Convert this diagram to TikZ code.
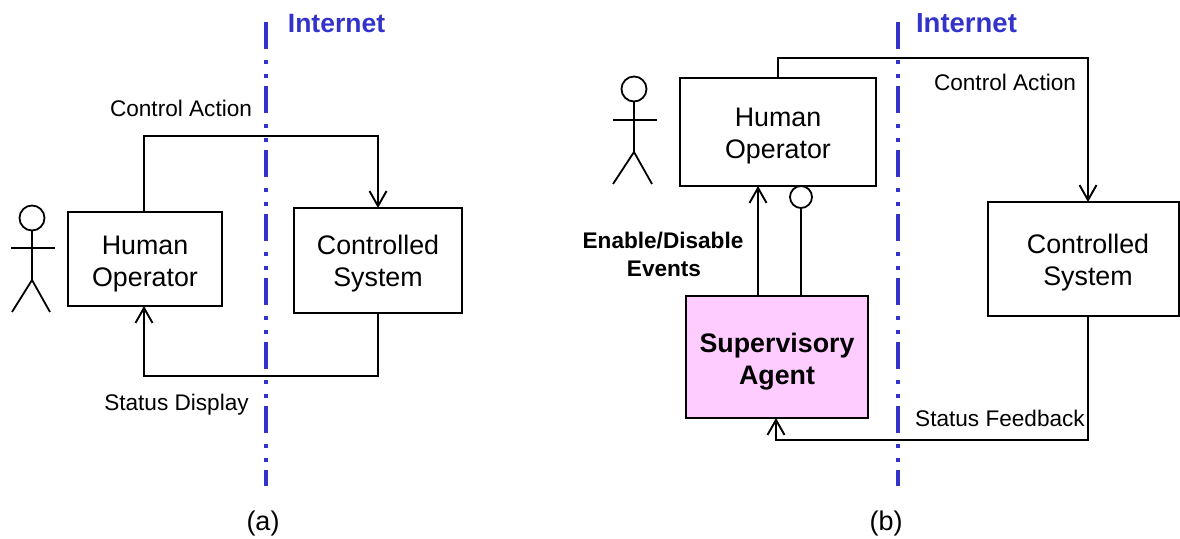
\documentclass[tikz,border=0pt]{standalone}
\usepackage{fontspec}
\setmainfont{Liberation Sans}
\usetikzlibrary{arrows.meta}
\definecolor{netblue}{HTML}{3333CC}
\definecolor{agentpink}{HTML}{FFCCFF}
\newcommand\tall[1]{\rule{0pt}{#1pt}}
\tikzset{
  x=1pt,y=-1pt,
  boxed/.style n args={2}{draw=black,line width=2pt,minimum width=#1pt,minimum height=#2pt,inner sep=0pt,outer sep=0pt,align=center,font=\fontsize{26.8}{32}\selectfont},
  flow/.style={draw=black,line width=2pt,line join=miter},
  openarrow/.style={flow,-{Straight Barb[length=15pt,width=17pt,line width=1.9pt]}},
  stick/.style={draw=black,line width=1.8pt},
  head/.style={draw=black,line width=1.8pt,circle,inner sep=0pt,minimum size=#1pt,outer sep=0pt},
  netline/.style={draw=netblue,line width=4pt,dash pattern=on 27pt off 11pt on 4pt off 10pt on 4pt off 8pt},
  nettext/.style={text=netblue,anchor=base,font=\fontsize{#1}{30}\selectfont\bfseries},
  lab/.style={anchor=base,font=\fontsize{22.6}{28}\selectfont,inner sep=0pt},
  blab/.style={anchor=base,font=\fontsize{22.6}{28}\selectfont\bfseries,inner sep=0pt},
  captext/.style={anchor=base,font=\fontsize{27}{28}\selectfont,inner sep=0pt},
}
\begin{document}
\begin{tikzpicture}
\useasboundingbox (0,0) rectangle (1180,538);
% --- panel (a)
\coordinate (neta1) at (266,22); \coordinate (neta2) at (266,486);
\draw[netline] (neta1) -- (neta2);
\node[nettext=26.5] (ineta) at (336.5,32) {Internet};
\node[boxed={154}{94}] (hoa) at (145,259) {\tall{27.8}Human\\Operator};
\node[boxed={168}{105}] (csa) at (378,260.5) {\tall{26}Controlled\\System};
\coordinate (ca1) at (144,136);
\coordinate (ca2) at (378,136);
\coordinate (sa1) at (378,376);
\coordinate (sa2) at (144,376);
\draw[flow,openarrow] (hoa.north -| ca1) -- (ca1) -- (ca2) -- (csa.north -| ca2);
\draw[flow,openarrow] (csa.south -| sa1) -- (sa1) -- (sa2) -- (hoa.south -| sa2);
\node[lab] (cala) at (181,116) {Control Action};
\node[lab] (sdla) at (176.5,410) {Status Display};
\node[captext] (capa) at (263,530) {(a)};
% stick figure a
\node[head=25] (sfa) at (32,218) {};
\coordinate (sfaH) at (32,280);
\coordinate (sfaL) at (11,248); \coordinate (sfaR) at (55,248);
\coordinate (sfaLL) at (12,312); \coordinate (sfaRL) at (50,312);
\draw[stick] (sfa.south) -- (sfaH);
\draw[stick] (sfaL) -- (sfaR);
\draw[stick] (sfaLL) -- (sfaH) -- (sfaRL);
% --- panel (b)
\coordinate (netb1) at (898,22); \coordinate (netb2) at (898,486);
\draw[netline] (netb1) -- (netb2);
\node[nettext=27.5] (inetb) at (966.5,32) {Internet};
\node[boxed={196}{108}] (hob) at (778,132) {\tall{25.8}Human\\Operator};
\node[boxed={191}{114}] (csb) at (1083.5,259) {\tall{26}\hspace*{9pt}Controlled\\\hspace*{9pt}System};
\node[boxed={182}{122},fill=agentpink,font=\fontsize{26.8}{32}\selectfont\bfseries] (sup) at (777,357) {\tall{28}Supervisory\\Agent};
\coordinate (cb1) at (778,58);
\coordinate (cb2) at (1088,58);
\coordinate (sb1) at (1088,440);
\coordinate (sb2) at (776,440);
\coordinate (ev) at (758,240);
\draw[flow,openarrow] (hob.north -| cb1) -- (cb1) -- (cb2) -- (csb.north -| cb2);
\draw[flow,openarrow] (csb.south -| sb1) -- (sb1) -- (sb2) -- (sup.south -| sb2);
\draw[flow,openarrow] (sup.north -| ev) -- (hob.south -| ev);
\node[head=22] (socket) at (801,197) {};
\draw[flow] (sup.north -| socket) -- (socket.south);
\node[lab] (calb) at (1005,90) {Control Action};
\node[lab] (sfbl) at (1000,426) {Status Feedback};
\node[blab] (enl) at (663,248) {Enable/Disable};
\node[blab] (evl) at (664,276) {Events};
\node[captext] (capb) at (886,530) {(b)};
% stick figure b
\node[head=25] (sfb) at (634,89) {};
\coordinate (sfbH) at (634,152);
\coordinate (sfbL) at (613,120); \coordinate (sfbR) at (657,120);
\coordinate (sfbLL) at (613,184); \coordinate (sfbRL) at (652,184);
\draw[stick] (sfb.south) -- (sfbH);
\draw[stick] (sfbL) -- (sfbR);
\draw[stick] (sfbLL) -- (sfbH) -- (sfbRL);
\end{tikzpicture}
\end{document}
